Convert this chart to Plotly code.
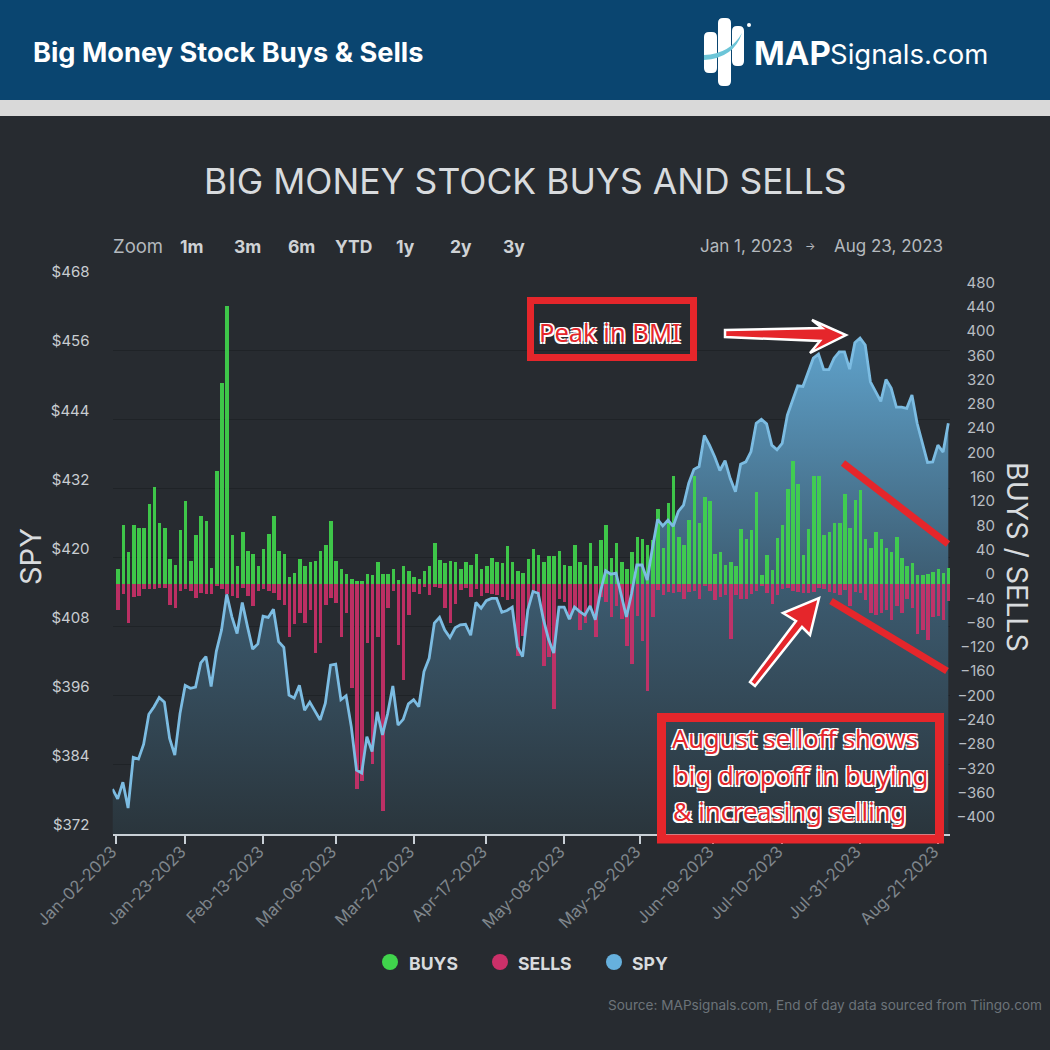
import plotly.graph_objects as go

W = 1050
FONT = "Inter"

# trading day index 0 = Jan-03-2023, SPY has one extra close before that
tick_pos = [-0.35, 13, 28, 42, 57, 71, 86, 100.6, 114.7, 128, 143, 158]
tick_labels = ["Jan-02-2023", "Jan-23-2023", "Feb-13-2023", "Mar-06-2023", "Mar-27-2023", "Apr-17-2023",
               "May-08-2023", "May-29-2023", "Jun-19-2023", "Jul-10-2023", "Jul-31-2023", "Aug-21-2023"]

buys = [24, 97, 53, 97, 93, 93, 132, 160, 100, 93, 41, 31, 89, 137, 38, 81, 112, 103, 26, 186,
        331, 457, 81, 29, 86, 55, 50, 29, 58, 83, 112, 55, 50, 12, 18, 41, 29, 36, 38, 55,
        65, 103, 38, 24, 17, 9, 5, 5, 17, 15, 36, 17, 17, 24, 7, 29, 22, 12, 9, 22,
        29, 67, 40, 34, 38, 37, 24, 36, 31, 50, 24, 29, 43, 36, 34, 63, 36, 22, 18, 41,
        58, 48, 36, 46, 46, 55, 31, 30, 64, 36, 31, 67, 29, 72, 97, 43, 67, 36, 24, 53,
        77, 74, 65, 72, 123, 60, 133, 178, 78, 64, 105, 178, 100, 143, 136, 50, 52, 31, 36, 29,
        91, 74, 89, 152, 15, 48, 23, 76, 97, 157, 202, 164, 48, 91, 177, 177, 81, 86, 101, 101,
        148, 93, 138, 155, 74, 59, 86, 74, 60, 52, 78, 43, 29, 34, 15, 15, 16, 20, 24, 18, 26]

sells = [42, 16, 64, 21, 19, 9, 9, 9, 7, 7, 35, 40, 11, 9, 11, 23, 14, 17, 16, 4,
         9, 16, 19, 23, 7, 19, 37, 11, 9, 11, 14, 26, 35, 88, 66, 47, 64, 42, 114, 97,
         35, 23, 31, 88, 47, 171, 337, 325, 97, 296, 88, 373, 40, 11, 100, 158, 51, 13, 16, 5,
         18, 5, 6, 39, 64, 33, 10, 6, 21, 9, 20, 14, 17, 18, 21, 27, 25, 118, 85, 40,
         15, 21, 135, 120, 206, 25, 29, 57, 40, 76, 64, 40, 87, 21, 30, 54, 37, 58, 102, 132,
         52, 94, 176, 54, 10, 18, 13, 15, 13, 25, 13, 11, 24, 2, 11, 27, 22, 18, 91, 18,
         24, 24, 16, 11, 2, 15, 33, 18, 9, 6, 11, 13, 15, 15, 13, 7, 9, 13, 14, 18,
         10, 37, 13, 15, 26, 47, 51, 47, 43, 59, 37, 47, 24, 40, 82, 76, 92, 55, 52, 59, 28]

spy = [379.8, 378.1, 381.0, 376.5, 385.3, 385.0, 387.6, 392.8, 394.1, 395.7, 394.9, 388.6, 385.7, 392.9, 397.8, 397.3,
       397.5, 401.7, 402.8, 397.6, 403.7, 407.4, 413.6, 409.7, 406.8, 412.2, 408.0, 404.1, 405.0, 409.8, 409.6, 411.0,
       405.4, 404.4, 396.1, 395.6, 397.8, 393.5, 394.9, 393.3, 391.8, 394.7, 401.3, 401.5, 395.3, 396.0, 390.6, 383.1,
       382.6, 388.9, 386.3, 393.2, 389.2, 392.9, 397.7, 390.9, 391.9, 394.6, 395.3, 394.1, 400.2, 402.5, 408.6, 409.6,
       407.4, 406.1, 407.8, 408.3, 408.4, 406.5, 412.2, 411.2, 412.5, 412.9, 412.9, 410.5, 410.8, 411.4, 404.5, 402.8,
       410.9, 414.1, 413.8, 409.3, 405.8, 403.4, 411.4, 411.4, 409.3, 411.4, 410.6, 410.0, 411.6, 409.2, 414.1, 417.7,
       417.1, 417.3, 413.2, 409.7, 413.8, 418.7, 418.7, 416.1, 421.6, 426.6, 425.5, 426.5, 425.4, 428.0, 429.1, 432.9,
       435.3, 435.8, 441.2, 439.5, 437.5, 435.1, 436.8, 433.7, 431.4, 436.2, 436.6, 438.4, 443.3, 444.0, 443.2, 439.5,
       438.7, 439.8, 444.7, 447.3, 449.8, 449.7, 452.0, 454.6, 455.3, 452.6, 452.6, 454.6, 455.7, 455.7, 452.7, 457.3,
       458.1, 456.9, 450.5, 448.8, 447.1, 450.9, 449.4, 446.1, 446.1, 445.9, 448.2, 443.3, 439.8, 436.5, 436.6, 439.5,
       438.3, 443.3]

spy_ticks = [372, 384, 396, 408, 420, 432, 444, 456, 468]
flow_ticks = list(range(-400, 481, 40))


def px(x):
    return x / W


def py(y):
    return 1 - y / W


def path(points, close=True):
    s = "M " + " L ".join(f"{px(x):.5f},{py(y):.5f}" for x, y in points)
    return s + (" Z" if close else "")


def rect(x0, y0, x1, y1, color, layer="below", line_color=None, line_width=0):
    return dict(type="rect", xref="paper", yref="paper", x0=px(x0), x1=px(x1), y0=py(y0), y1=py(y1),
                fillcolor=color, layer=layer, line=dict(color=line_color, width=line_width))


def pill(x0, y0, x1, y1, r=5):
    # rounded logo bar
    a, b, c, d = px(x0), px(x1), py(y0), py(y1)
    rx, ry = px(r), r / W
    d_str = (f"M {a + rx},{c} L {b - rx},{c} Q {b},{c} {b},{c - ry} L {b},{d + ry} Q {b},{d} {b - rx},{d} "
             f"L {a + rx},{d} Q {a},{d} {a},{d + ry} L {a},{c - ry} Q {a},{c} {a + rx},{c} Z")
    return dict(type="path", xref="paper", yref="paper", path=d_str, fillcolor="white", line=dict(width=0), layer="above")


def text(x, y, s, size, color, anchor="center", bold=False, family=FONT, angle=0, shadow=None):
    font = dict(size=size, color=color, family=family, weight=700 if bold else 400)
    if shadow:
        font["shadow"] = shadow
    if anchor == "left":
        x -= 2  # annotation box padding
    return dict(x=px(x), y=py(y), xref="paper", yref="paper", text=s, showarrow=False, xanchor=anchor,
                yanchor="middle", font=font, textangle=angle)


fig = go.Figure()

fig.add_trace(go.Scatter(x=list(range(-1, 161)), y=spy, yaxis="y", mode="none", fill="tozeroy",
                         fillgradient=dict(type="vertical", start=372, stop=458,
                                           colorscale=[[0, "#2a353c"], [0.5, "#3c5b70"], [1, "#5fa2cb"]]),
                         showlegend=False, hoverinfo="skip"))
fig.add_trace(go.Bar(x=list(range(161)), y=buys, yaxis="y2", width=0.68, name="BUYS",
                     marker=dict(color="#40d44c", opacity=0.92, line_width=0)))
fig.add_trace(go.Bar(x=list(range(161)), y=[-v for v in sells], yaxis="y2", width=0.68, name="SELLS",
                     marker=dict(color="#cc3069", opacity=0.9, line_width=0)))
fig.add_trace(go.Scatter(x=list(range(-1, 161)), y=spy, yaxis="y3", mode="lines", name="SPY",
                         line=dict(color="#7cbce2", width=2.8)))

shapes = [
    rect(0, 0, W, 100, "#0a4570"),
    rect(0, 100, W, 116, "#d9d9d9"),
    # logo
    pill(704, 32, 717, 73),
    pill(718, 18, 731, 86),
    pill(732, 26, 744, 66),
    dict(type="path", xref="paper", yref="paper", layer="above", fillcolor="#6cc5d8", line=dict(width=0),
         path=f"M {px(704)},{py(55)} Q {px(730)},{py(54)} {px(742)},{py(33)} Q {px(734)},{py(58)} {px(704)},{py(60)} Z"),
    dict(type="circle", xref="paper", yref="paper", x0=px(747), x1=px(751), y0=py(27), y1=py(23),
         fillcolor="white", line=dict(width=0), layer="above"),
    # callouts
    rect(530.5, 300.5, 693.5, 357.5, "rgba(0,0,0,0)", "above", "#e5262b", 7),
    rect(661.5, 717.5, 939.5, 839, "rgba(0,0,0,0)", "above", "#e5262b", 9),
    dict(type="line", xref="paper", yref="paper", x0=px(843), y0=py(463), x1=px(948), y1=py(544),
         line=dict(color="#e5262b", width=7), layer="above"),
    dict(type="line", xref="paper", yref="paper", x0=px(831), y0=py(601), x1=px(947), y1=py(671),
         line=dict(color="#e5262b", width=7), layer="above"),
    dict(type="path", xref="paper", yref="paper", layer="above", fillcolor="#e5262b", line=dict(color="white", width=2.5),
         path=path([(725, 330), (822, 328), (812, 320), (846, 335), (810, 353), (820, 341), (725, 337)])),
    dict(type="path", xref="paper", yref="paper", layer="above", fillcolor="#e5262b", line=dict(color="white", width=2.5),
         path=path([(750, 682), (796, 621), (783, 613), (819, 598), (810, 635), (802, 627), (755, 686)])),
    # legend dots
    dict(type="circle", xref="paper", yref="paper", x0=px(382), x1=px(398), y0=py(970), y1=py(954),
         fillcolor="#40d44c", line=dict(width=0)),
    dict(type="circle", xref="paper", yref="paper", x0=px(492), x1=px(508), y0=py(970), y1=py(954),
         fillcolor="#cc3069", line=dict(width=0)),
    dict(type="circle", xref="paper", yref="paper", x0=px(606), x1=px(622), y0=py(970), y1=py(954),
         fillcolor="#66b0dd", line=dict(width=0)),
]

outline = "1.5px 1.5px 0 #fff, -1.5px -1.5px 0 #fff, 1.5px -1.5px 0 #fff, -1.5px 1.5px 0 #fff"
grey = "#b4b9be"
annotations = [
    text(33, 52, "Big Money Stock Buys & Sells", 27.2, "white", "left", True),
    text(754, 53, "MAP", 33, "white", "left", True),
    text(830, 54, "Signals.com", 27.5, "white", "left"),
    text(525, 181, "BIG MONEY STOCK BUYS AND SELLS", 35.5, "#d8dbde"),
    text(113, 246, "Zoom", 18.5, grey, "left"),
    text(192, 246, "1m", 17.5, "#cfd2d5", bold=True),
    text(247, 246, "3m", 17.5, "#cfd2d5", bold=True),
    text(301, 246, "6m", 17.5, "#cfd2d5", bold=True),
    text(353, 246, "YTD", 17.5, "#cfd2d5", bold=True),
    text(405, 246, "1y", 17.5, "#cfd2d5", bold=True),
    text(461, 246, "2y", 17.5, "#cfd2d5", bold=True),
    text(514, 246, "3y", 17.5, "#cfd2d5", bold=True),
    text(700, 246, "Jan 1, 2023", 17, grey, "left"),
    text(810, 246, "→", 11, grey),
    text(834, 246, "Aug 23, 2023", 17, grey, "left"),
    text(30, 557, "SPY", 29, "#d8dbde", angle=-90),
    text(1018, 557, "BUYS / SELLS", 28.5, "#d8dbde", angle=90),
    text(610, 332, "Peak in BMI", 25.5, "#e5262b", family="Noto Sans", shadow=outline),
    text(672, 738, "August selloff shows", 25.5, "#e5262b", "left", family="Noto Sans", shadow=outline),
    text(673, 775, "big dropoff in buying", 25.8, "#e5262b", "left", family="Noto Sans", shadow=outline),
    text(673, 811, "& increasing selling", 25.5, "#e5262b", "left", family="Noto Sans", shadow=outline),
    text(409, 963, "BUYS", 17.6, "#d8dbde", "left", True),
    text(518, 963, "SELLS", 17.6, "#d8dbde", "left", True),
    text(632, 963, "SPY", 17.6, "#d8dbde", "left", True),
    text(1044, 1005, "Source: MAPsignals.com, End of day data sourced from Tiingo.com", 13.6, "#6c7379", "right"),
]

fig.update_layout(
    width=W, height=W, margin=dict(l=0, r=0, t=0, b=0, autoexpand=False),
    paper_bgcolor="#272b30", plot_bgcolor="rgba(0,0,0,0)",
    barmode="relative", bargap=0, showlegend=False,
    font=dict(family=FONT),
    shapes=shapes, annotations=annotations,
    xaxis=dict(domain=[px(112.5), px(950)], range=[-1, 160.33], tickmode="array", tickvals=tick_pos, ticktext=tick_labels,
               tickangle=-45, showgrid=False, zeroline=False, showline=True, linecolor="#c9d0d6", linewidth=1.5,
               ticks="outside", ticklen=8, tickcolor="#c9d0d6", tickwidth=1.5, ticklabelstandoff=-8, ticklabelshift=-4,
               tickfont=dict(size=16.5, color="#7f868c")),
    yaxis=dict(domain=[py(834), py(281)], range=[372, 468], tickmode="array", tickvals=spy_ticks,
               ticktext=[f"${v}" for v in spy_ticks], showgrid=True, gridcolor="#1f2327", gridwidth=1,
               zeroline=False, showline=False, ticks="", ticklabelshift=-9, ticklabelstandoff=22,
               tickfont=dict(size=15, color="#c9cdd1")),
    yaxis2=dict(overlaying="y", side="left", anchor="free", position=px(995), range=[-411.5, 498.8], tickmode="array",
                tickvals=flow_ticks, showgrid=False, zeroline=False, showline=False, ticks="", ticklabelshift=-10,
                tickfont=dict(size=15, color="#b8bdc2")),
    yaxis3=dict(overlaying="y", range=[372, 468], visible=False),
)

# drop the default 8px body margin so the figure fills the window
fig.write_html("out.html", config=dict(displayModeBar=False), post_script="document.body.style.margin='0';")
